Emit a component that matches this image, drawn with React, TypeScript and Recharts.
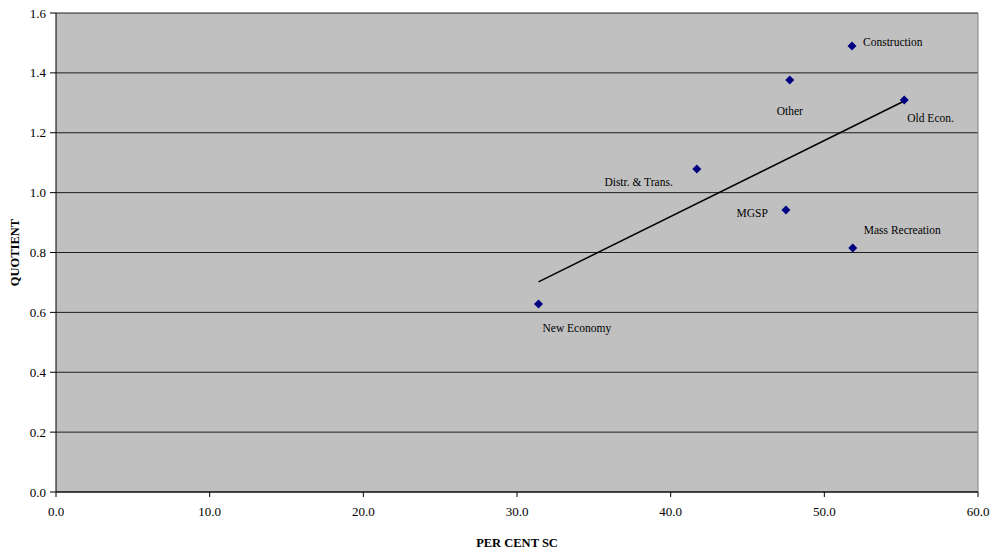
import {
  CartesianGrid,
  ReferenceLine,
  Scatter,
  ScatterChart,
  XAxis,
  YAxis,
} from "recharts";

const sectors = [
  "New Economy",
  "Distr. & Trans.",
  "MGSP",
  "Mass Recreation",
  "Construction",
  "Other",
  "Old Econ.",
];
const perCentSC = [31.4, 41.7, 47.5, 51.85, 51.8, 47.75, 55.2];
const quotient = [0.628, 1.079, 0.942, 0.815, 1.49, 1.376, 1.309];

const trendX = [31.4, 55.2];
const trendY = [0.702, 1.306];

const xTicks = [0, 10, 20, 30, 40, 50, 60];
const yTicks = [0, 0.2, 0.4, 0.6, 0.8, 1.0, 1.2, 1.4, 1.6];

const points = sectors.map((name, i) => ({
  name,
  x: perCentSC[i],
  y: quotient[i],
}));
const trend = trendX.map((x, i) => ({ x, y: trendY[i] }));

// where each label sits relative to its marker
const labelPos: Record<string, { dx: number; dy: number; anchor: string }> = {
  "New Economy": { dx: 4, dy: 25, anchor: "start" },
  "Distr. & Trans.": { dx: -24, dy: 14, anchor: "end" },
  MGSP: { dx: -18, dy: 4, anchor: "end" },
  "Mass Recreation": { dx: 11, dy: -17, anchor: "start" },
  Construction: { dx: 11, dy: -3, anchor: "start" },
  Other: { dx: 0, dy: 32, anchor: "middle" },
  "Old Econ.": { dx: 3, dy: 19, anchor: "start" },
};

const FONT = "'Liberation Serif', 'Times New Roman', serif";

const Diamond = (props: any) => {
  const { cx, cy, payload } = props;
  const pos = labelPos[payload.name];
  return (
    <g>
      <polygon
        points={`${cx},${cy - 4.5} ${cx + 4.5},${cy} ${cx},${cy + 4.5} ${cx - 4.5},${cy}`}
        fill="#000080"
      />
      <text
        x={cx + pos.dx}
        y={cy + pos.dy}
        textAnchor={pos.anchor as any}
        dominantBaseline="middle"
        fontSize={11.5}
        fontFamily={FONT}
        fill="#000"
      >
        {payload.name}
      </text>
    </g>
  );
};

const App = () => {
  return (
    <div style={{ position: "absolute", left: 0, top: 0, fontFamily: FONT }}>
      <ScatterChart
        width={997}
        height={555}
        margin={{ top: 13, right: 19, bottom: 33, left: 10 }}
      >
        <CartesianGrid
          vertical={false}
          stroke="#000"
          strokeOpacity={0.85}
          fill="#C0C0C0"
          fillOpacity={1}
        />
        <XAxis
          type="number"
          dataKey="x"
          domain={[0, 60]}
          ticks={xTicks}
          tickFormatter={(v: number) => v.toFixed(1)}
          axisLine={{ stroke: "#000" }}
          tickLine={{ stroke: "#000" }}
          tickSize={5}
          tickMargin={10}
          height={30}
          tick={{ fill: "#000", fontSize: 13, fontFamily: FONT }}
          label={{
            value: "PER CENT SC",
            position: "insideBottom",
            offset: -25,
            fill: "#000",
            fontSize: 12.5,
            fontWeight: "bold",
            fontFamily: FONT,
          }}
        />
        <YAxis
          type="number"
          dataKey="y"
          domain={[0, 1.6]}
          ticks={yTicks}
          tickFormatter={(v: number) => v.toFixed(1)}
          axisLine={{ stroke: "#000" }}
          tickLine={{ stroke: "#000" }}
          tickSize={6}
          tickMargin={4}
          width={46}
          tick={{ fill: "#000", fontSize: 13, fontFamily: FONT }}
          label={{
            value: "QUOTIENT",
            angle: -90,
            position: "insideLeft",
            offset: 5,
            fill: "#000",
            fontSize: 12.5,
            fontWeight: "bold",
            fontFamily: FONT,
            style: { textAnchor: "middle" },
          }}
        />
        <ReferenceLine x={60} stroke="#808080" />
        <Scatter
          data={trend}
          line={{ stroke: "#000", strokeWidth: 1.5 }}
          shape={() => <g />}
          isAnimationActive={false}
        />
        <Scatter data={points} shape={Diamond} isAnimationActive={false} />
      </ScatterChart>
    </div>
  );
};

export default App;
